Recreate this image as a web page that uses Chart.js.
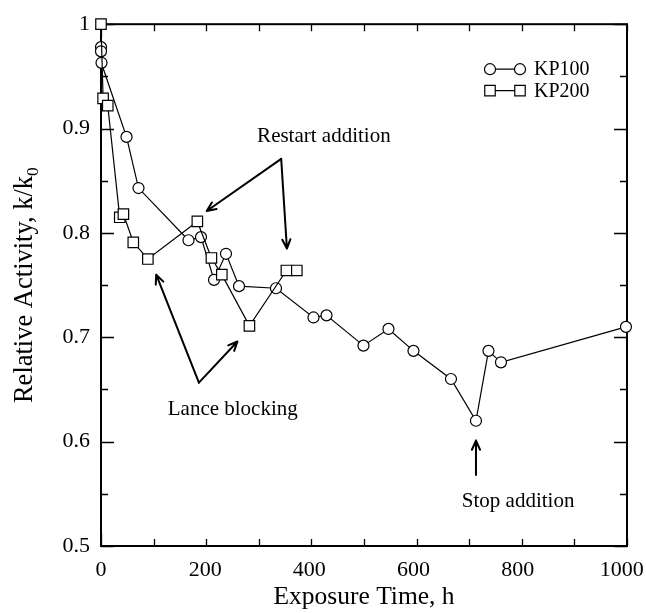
<!DOCTYPE html>
<html><head><meta charset="utf-8">
<script src="https://cdn.jsdelivr.net/npm/chart.js@4/dist/chart.umd.min.js"></script>
<style>html,body{margin:0;padding:0;background:#fff;}</style>
</head><body>
<canvas id="c" width="646" height="613"></canvas>
<script>
// ---- data ----
const kp100Time = [0, 0, 1, 49, 72, 168, 192, 217, 240, 265, 336, 408, 433, 504, 552, 600, 672, 720, 744, 768, 1008];
const kp100Activity = [0.978, 0.974, 0.963, 0.892, 0.843, 0.793, 0.796, 0.755, 0.780, 0.749, 0.747, 0.719, 0.721, 0.692, 0.708, 0.687, 0.660, 0.620, 0.687, 0.676, 0.710];
const kp200Time = [0, 4, 13, 36, 43, 62, 90, 185, 212, 232, 285, 356, 376];
const kp200Activity = [1.000, 0.929, 0.922, 0.815, 0.818, 0.791, 0.775, 0.811, 0.776, 0.760, 0.711, 0.764, 0.764];
const seriesNames = ['KP100', 'KP200'];
const xMajorTicks = [0, 200, 400, 600, 800, 1000];
const xTickLabels = ['0', '200', '400', '600', '800', '1000'];
const yMajorTicks = [0.5, 0.6, 0.7, 0.8, 0.9, 1];

// annotations (in data units)
const noteTexts = ['Restart addition', 'Lance blocking', 'Stop addition'];
const noteX = [428, 253, 801];
const noteY = [0.8925, 0.631, 0.543];
const arrowFromX = [346, 346, 188, 188, 720];
const arrowFromY = [0.871, 0.871, 0.6565, 0.6565, 0.568];
const arrowToX = [203, 357, 106, 262, 720];
const arrowToY = [0.821, 0.785, 0.760, 0.696, 0.601];

const FONT = '"Liberation Serif", "Times New Roman", Times, serif';
Chart.defaults.font.family = FONT;
Chart.defaults.color = '#000';

const toPts = (xs, ys) => xs.map((v, i) => ({x: v, y: ys[i]}));

const isMajorX = v => xMajorTicks.some(m => Math.abs(m - v) < 1e-6);
const isMajorY = v => yMajorTicks.some(m => Math.abs(m - v) < 1e-6);

const decorPlugin = {
  id: 'decor',
  beforeDatasetsDraw(chart) {
    const {ctx, chartArea: a, scales: {x, y}} = chart;
    ctx.save();
    ctx.strokeStyle = '#000';
    ctx.lineWidth = 2;
    ctx.strokeRect(a.left, a.top, a.right - a.left, a.bottom - a.top);
    ctx.lineWidth = 1.3;
    ctx.beginPath();
    x.ticks.forEach(t => {
      const px = Math.round(x.getPixelForValue(t.value)) + 0.5;
      const len = isMajorX(t.value) ? 13 : 7;
      ctx.moveTo(px, a.bottom); ctx.lineTo(px, a.bottom - len);
      ctx.moveTo(px, a.top); ctx.lineTo(px, a.top + len);
    });
    y.ticks.forEach(t => {
      const py = Math.round(y.getPixelForValue(t.value)) + 0.5;
      const len = isMajorY(t.value) ? 13 : 7;
      ctx.moveTo(a.left, py); ctx.lineTo(a.left + len, py);
      ctx.moveTo(a.right, py); ctx.lineTo(a.right - len, py);
    });
    ctx.stroke();
    // x tick labels
    ctx.fillStyle = '#000';
    ctx.font = '22px ' + FONT;
    ctx.textAlign = 'center';
    ctx.textBaseline = 'middle';
    xMajorTicks.forEach((v, i) => ctx.fillText(xTickLabels[i], x.getPixelForValue(v), a.bottom + 24));
    ctx.restore();
  },
  afterDraw(chart) {
    const {ctx, chartArea: a, scales: {x, y}} = chart;
    ctx.save();
    ctx.fillStyle = '#000';
    ctx.strokeStyle = '#000';
    // y-axis title with subscript
    const main = 'Relative Activity, k/k';
    ctx.font = '26.5px ' + FONT;
    const w1 = ctx.measureText(main).width;
    ctx.font = '17.5px ' + FONT;
    const w2 = ctx.measureText('0').width;
    const cy = (a.top + a.bottom) / 2;
    ctx.translate(25, cy);
    ctx.rotate(-Math.PI / 2);
    ctx.textBaseline = 'middle';
    ctx.textAlign = 'left';
    ctx.font = '26.5px ' + FONT;
    const start = -(w1 + w2) / 2;
    ctx.fillText(main, start, 0);
    ctx.font = '17.5px ' + FONT;
    ctx.fillText('0', start + w1, 8);
    ctx.setTransform(1, 0, 0, 1, 0, 0);

    // annotations
    ctx.font = '21px ' + FONT;
    ctx.textAlign = 'center';
    ctx.textBaseline = 'middle';
    noteTexts.forEach((t, i) => ctx.fillText(t, x.getPixelForValue(noteX[i]), y.getPixelForValue(noteY[i])));
    ctx.lineWidth = 2;
    ctx.lineCap = 'round';
    arrowFromX.forEach((fx, i) => {
      const x0 = x.getPixelForValue(fx), y0 = y.getPixelForValue(arrowFromY[i]);
      const x1 = x.getPixelForValue(arrowToX[i]), y1 = y.getPixelForValue(arrowToY[i]);
      const ang = Math.atan2(y1 - y0, x1 - x0);
      ctx.beginPath();
      ctx.moveTo(x0, y0); ctx.lineTo(x1, y1);
      const hl = 10, ha = 0.42;
      ctx.moveTo(x1, y1); ctx.lineTo(x1 - hl * Math.cos(ang - ha), y1 - hl * Math.sin(ang - ha));
      ctx.moveTo(x1, y1); ctx.lineTo(x1 - hl * Math.cos(ang + ha), y1 - hl * Math.sin(ang + ha));
      ctx.stroke();
    });

    // legend
    const lx0 = a.right - 137, lx1 = a.right - 107, tx = a.right - 93;
    const rows = [a.top + 45, a.top + 66.5];
    chart.data.datasets.forEach((ds, i) => {
      const ry = rows[i];
      ctx.lineWidth = 1.2;
      ctx.beginPath(); ctx.moveTo(lx0, ry); ctx.lineTo(lx1, ry); ctx.stroke();
      ctx.fillStyle = '#fff';
      ctx.strokeStyle = '#000';
      const opt = {pointStyle: ds.pointStyle, radius: ds.pointRadius, borderWidth: ds.pointBorderWidth, rotation: 0};
      Chart.helpers.drawPoint(ctx, opt, lx0, ry);
      Chart.helpers.drawPoint(ctx, opt, lx1, ry);
      ctx.fillStyle = '#000';
      ctx.font = '20px ' + FONT;
      ctx.textAlign = 'left';
      ctx.textBaseline = 'middle';
      ctx.fillText(ds.label, tx, ry + 1);
    });
    ctx.restore();
  }
};

new Chart(document.getElementById('c'), {
  type: 'scatter',
  data: {
    datasets: [
      {label: seriesNames[0], data: toPts(kp100Time, kp100Activity), showLine: true, order: 2,
       borderColor: '#000', borderWidth: 1.2, pointStyle: 'circle', pointRadius: 5.5,
       pointBackgroundColor: '#fff', pointBorderColor: '#000', pointBorderWidth: 1.2, tension: 0, clip: false},
      {label: seriesNames[1], data: toPts(kp200Time, kp200Activity), showLine: true, order: 1,
       borderColor: '#000', borderWidth: 1.2, pointStyle: 'rect', pointRadius: 7.4,
       pointBackgroundColor: '#fff', pointBorderColor: '#000', pointBorderWidth: 1.2, tension: 0, clip: false}
    ]
  },
  options: {
    responsive: false,
    animation: false,
    devicePixelRatio: 1,
    layout: {padding: {left: 0, right: 19, top: 20, bottom: 0}, autoPadding: false},
    plugins: {legend: {display: false}, tooltip: {enabled: false}},
    scales: {
      x: {
        type: 'linear', min: 0, max: 1010,
        afterFit(s) { s.height = 67; },
        grid: {display: false, drawTicks: false},
        border: {display: false},
        ticks: {stepSize: 100, maxTicksLimit: 30, includeBounds: false, autoSkip: false, maxRotation: 0, padding: 12,
                color: 'rgba(0,0,0,0)', font: {size: 22},
                callback: () => ''},
        title: {display: true, text: 'Exposure Time, h', color: '#000', font: {size: 25.5}, padding: {top: 0, bottom: 0}}
      },
      y: {
        type: 'linear', min: 0.5, max: 1.0,
        afterFit(s) { s.width = 101; },
        grid: {display: false, drawTicks: false},
        border: {display: false},
        ticks: {stepSize: 0.05, maxTicksLimit: 30, includeBounds: false, autoSkip: false, padding: 11,
                color: '#000', font: {size: 22},
                callback: v => isMajorY(v) ? (Math.abs(v - 1) < 1e-6 ? '1' : v.toFixed(1)) : ''}
      }
    }
  },
  plugins: [decorPlugin]
});
</script>
</body></html>
